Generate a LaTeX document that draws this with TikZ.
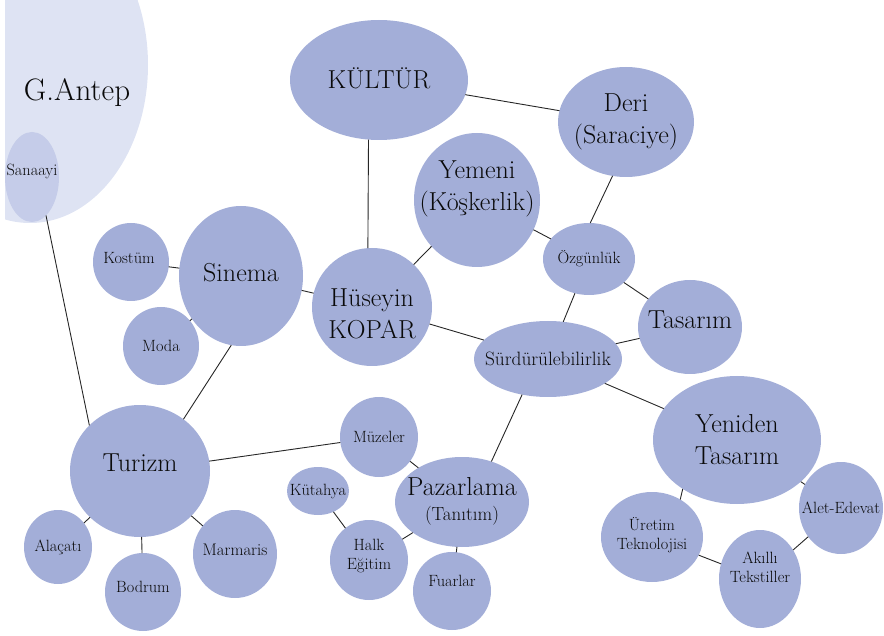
\documentclass[tikz,border=0pt]{standalone}
\usetikzlibrary{shapes.geometric}
\usepackage{xcolor}
\definecolor{bubble}{RGB}{163,174,216}
\definecolor{cityfill}{RGB}{222,227,243}
\definecolor{subfill}{RGB}{197,204,233}
\definecolor{inktext}{RGB}{10,10,10}

\begin{document}
\begin{tikzpicture}[x=1pt,y=-1pt,
  bub/.style={ellipse, fill=bubble, inner sep=0pt, outer sep=0pt},
  every label/.style={align=center, text=inktext, inner sep=0pt},
  bigtext/.style={font=\fontsize{26}{32}\selectfont},
  smalltext/.style={font=\fontsize{16.3}{19}\selectfont},
  link/.style={line width=0.9pt, black!85}]

\useasboundingbox (0,0) rectangle (884,636);
\clip (5,0) rectangle (884,636);

% G.Antep region
\fill[cityfill] (30,65) ellipse [x radius=118, y radius=158];
\node[text=inktext, font=\fontsize{31}{36}\selectfont] (antep) at (77,93) {G.Antep};
\node[bub, fill=subfill, minimum width=54, minimum height=90,
  label={[smalltext, yshift=6pt]center:Sanaayi}] (sanaayi) at (32,177) {};

% top: culture, leather, shoes
\node[bub, minimum width=178, minimum height=120,
  label={[bigtext, yshift=2pt]center:KÜLTÜR}] (kultur) at (379,80) {};
\node[bub, minimum width=136, minimum height=110,
  label={[bigtext]center:Deri\\(Saraciye)}] (deri) at (626,122) {};
\node[bub, minimum width=126, minimum height=134,
  label={[bigtext, yshift=11pt]center:Yemeni\\(Köşkerlik)}] (yemeni) at (477,200) {};
\node[bub, minimum width=92, minimum height=72,
  label={[smalltext]center:Özgünlük}] (ozgun) at (589,259) {};
\node[bub, minimum width=104, minimum height=94,
  label={[bigtext, yshift=7pt]center:Tasarım}] (tasarim) at (690,327) {};
\node[bub, minimum width=148, minimum height=76,
  label={[font=\fontsize{19.3}{22}\selectfont]center:Sürdürülebilirlik}] (surdur) at (548,359) {};
\node[bub, minimum width=120, minimum height=118,
  label={[bigtext, yshift=-7pt]center:Hüseyin\\KOPAR}] (kopar) at (372,307) {};

% cinema group
\node[bub, minimum width=124, minimum height=140,
  label={[bigtext, yshift=3pt]center:Sinema}] (sinema) at (241,276) {};
\node[bub, minimum width=76, minimum height=78,
  label={[smalltext, yshift=4pt, xshift=-2pt]center:Kostüm}] (kostum) at (131,262) {};
\node[bub, minimum width=76, minimum height=78,
  label={[smalltext]center:Moda}] (moda) at (161,346) {};

% tourism group
\node[bub, minimum width=140, minimum height=132,
  label={[bigtext, yshift=8pt]center:Turizm}] (turizm) at (140,471) {};
\node[bub, minimum width=68, minimum height=74,
  label={[smalltext]center:Alaçatı}] (alacati) at (58,547) {};
\node[bub, minimum width=76, minimum height=78,
  label={[smalltext, yshift=5pt]center:Bodrum}] (bodrum) at (143,592) {};
\node[bub, minimum width=84, minimum height=88,
  label={[font=\fontsize{16.8}{21}\selectfont, yshift=4pt]center:Marmaris}] (marmaris) at (235,554) {};

% marketing group
\node[bub, minimum width=78, minimum height=80,
  label={[smalltext]center:Müzeler}] (muzeler) at (379,437) {};
\node[bub, minimum width=62, minimum height=48,
  label={[smalltext]center:Kütahya}] (kutahya) at (318,491) {};
\node[bub, minimum width=78, minimum height=80,
  label={[smalltext, yshift=4pt]center:Halk\\Eğitim}] (halk) at (369,560) {};
\node[bub, minimum width=134, minimum height=90,
  label={[font=\fontsize{26}{25}\selectfont, yshift=1pt]center:Pazarlama\\{\fontsize{19}{22}\selectfont(Tanıtım)}}] (pazar) at (462,502) {};
\node[bub, minimum width=78, minimum height=78,
  label={[smalltext, yshift=10pt]center:Fuarlar}] (fuarlar) at (452,591) {};

% redesign group
\node[bub, minimum width=168, minimum height=128,
  label={[bigtext]center:Yeniden\\Tasarım}] (yeniden) at (737,440) {};
\node[bub, minimum width=102, minimum height=90,
  label={[smalltext, yshift=2pt]center:Üretim\\Teknolojisi}] (uretim) at (652,537) {};
\node[bub, minimum width=82, minimum height=98,
  label={[smalltext, yshift=12pt]center:Akıllı\\Tekstiller}] (akilli) at (760,579) {};
\node[bub, minimum width=84, minimum height=92,
  label={[smalltext]center:Alet-Edevat}] (alet) at (841,508) {};

% links
\draw[link] (kultur) -- (deri);
\draw[link] (kultur.260) -- (kopar.94);
\draw[link] (deri.256) -- (ozgun.88);
\draw[link] (yemeni) -- (ozgun);
\draw[link] (yemeni) -- (kopar);
\draw[link] (ozgun) -- (tasarim);
\draw[link] (ozgun) -- (surdur);
\draw[link] (kopar) -- (surdur);
\draw[link] (surdur) -- (tasarim);
\draw[link] (surdur) -- (yeniden);
\draw[link] (surdur.234) -- (pazar.54);
\draw[link] (kopar) -- (sinema);
\draw[link] (sinema) -- (kostum);
\draw[link] (sinema) -- (moda);
\draw[link] (sinema.262) -- (turizm.50);
\draw[link] (sanaayi.-70) -- (turizm.138);
\draw[link] (turizm) -- (muzeler);
\draw[link] (turizm) -- (alacati);
\draw[link] (turizm) -- (bodrum);
\draw[link] (turizm) -- (marmaris);
\draw[link] (muzeler) -- (pazar);
\draw[link] (kutahya) -- (halk);
\draw[link] (halk) -- (pazar);
\draw[link] (pazar) -- (fuarlar);
\draw[link] (yeniden.222) -- (uretim.53);
\draw[link] (yeniden) -- (alet);
\draw[link] (uretim) -- (akilli);
\draw[link] (akilli) -- (alet);

\end{tikzpicture}
\end{document}
